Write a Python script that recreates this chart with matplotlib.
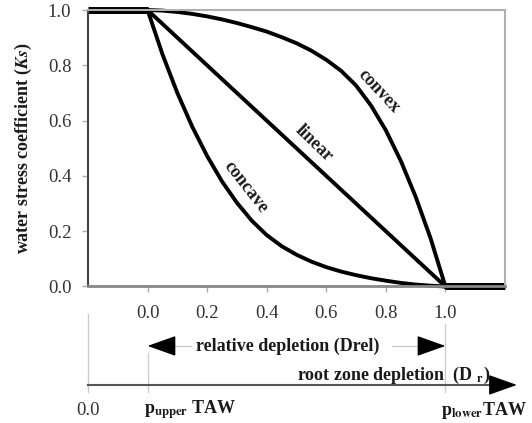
import numpy as np
import matplotlib
matplotlib.use("Agg")
import matplotlib.pyplot as plt

plt.rcParams['font.family'] = ['Liberation Serif', 'DejaVu Serif']
plt.rcParams['mathtext.fontset'] = 'stix'

# relative depletion (Drel) and Ks values
drel = [0.0, 0.05, 0.1, 0.15, 0.2, 0.25, 0.3, 0.35, 0.4, 0.45, 0.5,
        0.55, 0.6, 0.65, 0.7, 0.75, 0.8, 0.85, 0.9, 0.95, 1.0]
ks_convex = [1.0, 0.998, 0.993, 0.986, 0.977, 0.966, 0.953, 0.938, 0.922, 0.902, 0.88,
             0.853, 0.82, 0.78, 0.727, 0.655, 0.565, 0.455, 0.325, 0.175, 0.0]
ks_concave = [1.0, 0.84, 0.70, 0.578, 0.472, 0.38, 0.303, 0.238, 0.186, 0.146, 0.115,
              0.09, 0.07, 0.054, 0.041, 0.03, 0.021, 0.013, 0.007, 0.003, 0.0]
lin_x = [0.0, 1.0]
lin_ks = [1.0, 0.0]
flat_hi_x = [-0.2, 0.0]
flat_hi_ks = [1.0, 1.0]
flat_lo_x = [1.0, 1.2]
flat_lo_ks = [0.0, 0.0]

xticks = [0.0, 0.2, 0.4, 0.6, 0.8, 1.0]
yticks = [0.0, 0.2, 0.4, 0.6, 0.8, 1.0]

fig = plt.figure(figsize=(5.32, 4.23), dpi=100)
ax = fig.add_axes([0.1654, 0.3227, 0.7838, 0.6536])
ax.set_xlim(-0.2, 1.2)
ax.set_ylim(0, 1.0)

ax.plot(flat_hi_x, flat_hi_ks, color='black', lw=5, solid_capstyle='butt', clip_on=False)
ax.plot(flat_lo_x, flat_lo_ks, color='black', lw=5, solid_capstyle='butt', clip_on=False)
ax.plot(drel, ks_convex, color='black', lw=2.8, clip_on=False)
ax.plot(drel, ks_concave, color='black', lw=2.8, clip_on=False)
ax.plot(lin_x, lin_ks, color='black', lw=2.8, clip_on=False)

lab = dict(fontsize=13, fontweight='bold', color='#1a1a1a', ha='center', va='center')
ax.text(0.775, 0.705, 'convex', rotation=-47, **lab)
ax.text(0.558, 0.518, 'linear', rotation=-44, **lab)
ax.text(0.33, 0.36, 'concave', rotation=-52, **lab)

# spines and ticks
for s in ['top', 'right']:
    ax.spines[s].set_color('#b0b0b0')
    ax.spines[s].set_linewidth(1.5)
ax.spines['left'].set_color('#444444')
ax.spines['left'].set_linewidth(1.5)
ax.spines['bottom'].set_color('#888888')
ax.spines['bottom'].set_linewidth(2)

ax.set_xticks(xticks)
ax.set_xticklabels(['%.1f' % v for v in xticks])
ax.set_yticks(yticks)
ax.set_yticklabels(['%.1f' % v for v in yticks])
ax.tick_params(axis='both', colors='#aaaaaa', labelcolor='#333333', labelsize=13.5,
               length=4, width=1)
ax.tick_params(axis='x', pad=9)
ax.tick_params(axis='y', pad=8)

ax.set_ylabel(r'water stress coefficient ($\mathbfit{Ks}$)', fontsize=13,
              fontweight='bold', color='#1a1a1a', labelpad=10)

# below-axis annotations
y_rel = -0.215
y_root = -0.32
y_axis = -0.356
y_bot = -0.447

ax.plot([-0.2, -0.2], [-0.10, -0.38], color='#cccccc', lw=1, clip_on=False)
ax.plot([0.0, 0.0], [-0.24, -0.38], color='#cccccc', lw=1, clip_on=False)
ax.plot([1.0, 1.0], [-0.136, -0.38], color='#cccccc', lw=1, clip_on=False)

ax.plot([0.08, 0.145], [y_rel, y_rel], color='#cccccc', lw=1, clip_on=False)
ax.plot([0.82, 0.92], [y_rel, y_rel], color='#cccccc', lw=1, clip_on=False)
head = dict(arrowstyle='-|>,head_length=0.9,head_width=0.32', color='black',
            lw=1, mutation_scale=20, shrinkA=0, shrinkB=0)
ax.annotate('', xy=(0.0, y_rel), xytext=(0.081, y_rel), arrowprops=head,
            annotation_clip=False)
ax.annotate('', xy=(1.0, y_rel), xytext=(0.919, y_rel), arrowprops=head,
            annotation_clip=False)
ax.text(0.47, y_rel, 'relative depletion (Drel)', fontsize=13, fontweight='bold',
        color='#1a1a1a', ha='center', va='center', clip_on=False)

ax.plot([-0.2, 1.17], [y_axis, y_axis], color='#555555', lw=1.5, clip_on=False)
ax.annotate('', xy=(1.24, y_axis), xytext=(1.16, y_axis), arrowprops=head,
            annotation_clip=False)
ax.text(1.15, y_root, r'root zone depletion  (D $_{\mathbf{r}}$)', fontsize=13,
        fontweight='bold', color='#1a1a1a', ha='right', va='center')

ax.text(-0.2, y_bot, '0.0', fontsize=13.5, color='#333333', ha='center', va='center')
ax.text(-0.012, y_bot, r'p$_{\mathbf{upper}}$ TAW', fontsize=13, fontweight='bold',
        color='#1a1a1a', ha='left', va='center')
ax.text(0.985, y_bot, r'p$_{\mathbf{lower}}$TAW', fontsize=13, fontweight='bold',
        color='#1a1a1a', ha='left', va='center')

fig.savefig('out.png', dpi=100)
